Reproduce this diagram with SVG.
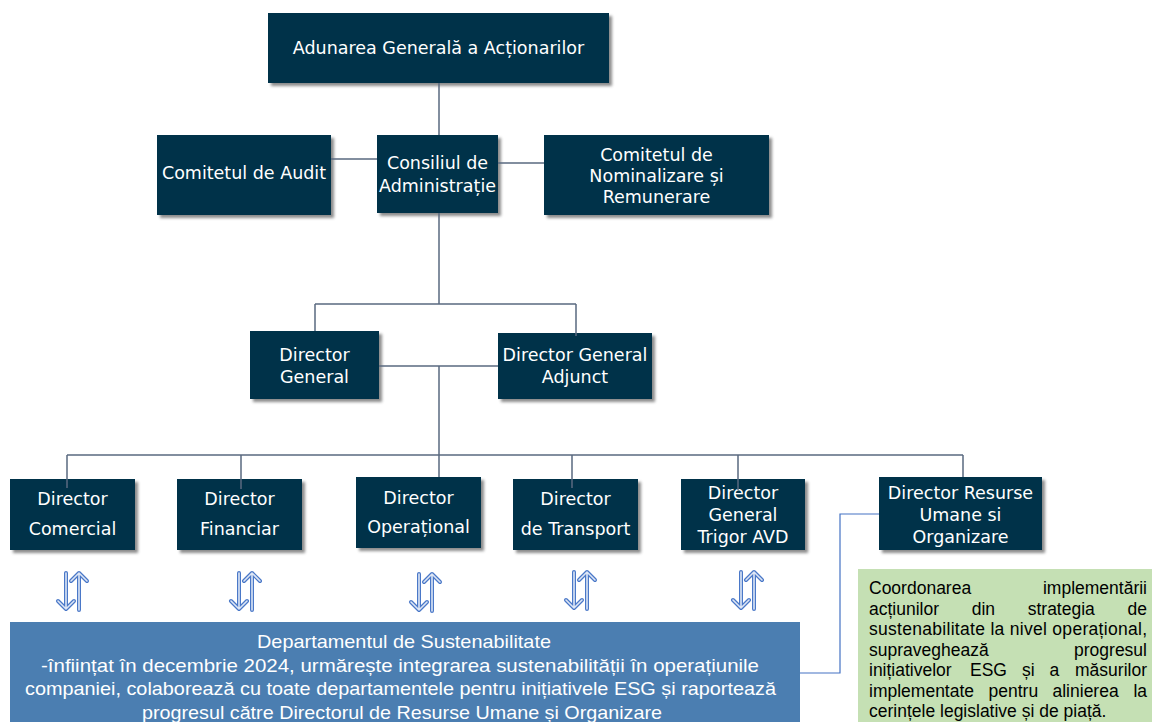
<svg xmlns="http://www.w3.org/2000/svg" width="1152" height="722" viewBox="0 0 1152 722">
<defs>
<filter id="sh" x="-10%" y="-10%" width="125%" height="130%">
<feDropShadow dx="3" dy="3" stdDeviation="1.5" flood-color="#000" flood-opacity="0.45"/>
</filter>
<style>
.box{fill:#06304a;filter:url(#sh)}
.lbl{font-family:"DejaVu Sans",Verdana,sans-serif;font-size:17.5px;fill:#fff;text-anchor:middle}
.con{stroke:#5a6a80;stroke-width:1.5;fill:none}
.blue{stroke:#4472c4;stroke-width:1.2;fill:none}
.arO{stroke:#4a78c8;stroke-width:4;fill:none;stroke-linecap:round;stroke-linejoin:round}
.arI{stroke:#dde6f5;stroke-width:1.6;fill:none;stroke-linecap:round;stroke-linejoin:round}
.dep{font-family:"Liberation Sans",Arial,sans-serif;font-size:19px;fill:#fff;text-anchor:middle}
.grn{font-family:"Liberation Sans",Arial,sans-serif;font-size:17.5px;fill:#000}
</style>
<g id="arw">
<path class="arO" d="M0 0V36M-8 28L0 36L8 28M13 37V0M5 8L13 0L21 8"/>
<path class="arI" d="M0 0V36M-8 28L0 36L8 28M13 37V0M5 8L13 0L21 8"/>
</g>
</defs>
<rect width="1152" height="722" fill="#fff"/>

<g id="n-aga"><rect class="box" x="268" y="13" width="341" height="70"/><text class="lbl" x="438.5" y="54">Adunarea Generală a Acționarilor</text></g>
<g id="n-audit"><rect class="box" x="157" y="135" width="174" height="80"/><text class="lbl" x="244" y="179">Comitetul de Audit</text></g>
<g id="n-ca"><rect class="box" x="377" y="135" width="121" height="78"/><text class="lbl" x="437.5" y="169">Consiliul de</text><text class="lbl" x="437.5" y="192">Administrație</text></g>
<g id="n-cnr"><rect class="box" x="544" y="135" width="225" height="80"/><text class="lbl" x="656.5" y="161">Comitetul de</text><text class="lbl" x="656.5" y="182">Nominalizare și</text><text class="lbl" x="656.5" y="203">Remunerare</text></g>
<g id="n-dg"><rect class="box" x="250" y="331" width="129" height="68"/><text class="lbl" x="314.5" y="361">Director</text><text class="lbl" x="314.5" y="383">General</text></g>
<g id="n-dga"><rect class="box" x="498" y="333" width="154" height="66"/><text class="lbl" x="575" y="361">Director General</text><text class="lbl" x="575" y="383">Adjunct</text></g>
<g id="n-com"><rect class="box" x="10" y="479" width="125" height="71"/><text class="lbl" x="72.5" y="505">Director</text><text class="lbl" x="72.5" y="535">Comercial</text></g>
<g id="n-fin"><rect class="box" x="177" y="479" width="125" height="71"/><text class="lbl" x="239.5" y="505">Director</text><text class="lbl" x="239.5" y="535">Financiar</text></g>
<g id="n-op"><rect class="box" x="356" y="477" width="125" height="71"/><text class="lbl" x="418.5" y="504">Director</text><text class="lbl" x="418.5" y="533">Operațional</text></g>
<g id="n-tr"><rect class="box" x="513" y="479" width="125" height="71"/><text class="lbl" x="575.5" y="505">Director</text><text class="lbl" x="575.5" y="535">de Transport</text></g>
<g id="n-avd"><rect class="box" x="681" y="479" width="124" height="71"/><text class="lbl" x="743" y="499">Director</text><text class="lbl" x="743" y="521">General</text><text class="lbl" x="743" y="543">Trigor AVD</text></g>
<g id="n-hr"><rect class="box" x="879" y="477" width="163" height="73"/><text class="lbl" x="960.5" y="499">Director Resurse</text><text class="lbl" x="960.5" y="521">Umane si</text><text class="lbl" x="960.5" y="543">Organizare</text></g>

<g id="n-dep"><rect x="10" y="622" width="790" height="100" fill="#4b7eb1"/>
<text class="dep" x="404" y="648" textLength="294" lengthAdjust="spacingAndGlyphs">Departamentul de Sustenabilitate</text>
<text class="dep" x="400" y="671.5" textLength="718" lengthAdjust="spacingAndGlyphs">-înființat în decembrie 2024, urmărește integrarea sustenabilității în  operațiunile</text>
<text class="dep" x="400.5" y="695" textLength="751" lengthAdjust="spacingAndGlyphs">companiei, colaborează cu toate departamentele pentru inițiativele ESG și raportează</text>
<text class="dep" x="402" y="718.5" textLength="520" lengthAdjust="spacingAndGlyphs">progresul către Directorul de Resurse Umane și Organizare</text>
</g>

<g id="n-note"><rect x="858" y="569" width="294" height="153" fill="#c5e0b4"/>
<text class="grn" y="594"><tspan x="869">Coordonarea</tspan><tspan x="1147" text-anchor="end">implementării</tspan></text>
<text class="grn" y="614.5"><tspan x="869">acțiunilor</tspan><tspan x="971.7">din</tspan><tspan x="1027.7">strategia</tspan><tspan x="1147" text-anchor="end">de</tspan></text>
<text class="grn" x="869" y="635" textLength="278" lengthAdjust="spacing">sustenabilitate la nivel operațional,</text>
<text class="grn" y="655.5"><tspan x="869">supraveghează</tspan><tspan x="1147" text-anchor="end">progresul</tspan></text>
<text class="grn" y="676"><tspan x="869">inițiativelor</tspan><tspan x="970">ESG</tspan><tspan x="1022">și</tspan><tspan x="1049.5">a</tspan><tspan x="1147" text-anchor="end">măsurilor</tspan></text>
<text class="grn" y="696.5"><tspan x="869">implementate</tspan><tspan x="988.5">pentru</tspan><tspan x="1052.5">alinierea</tspan><tspan x="1147" text-anchor="end">la</tspan></text>
<text class="grn" x="869" y="717">cerințele legislative și de piață.</text>
</g>

<g id="connectors">
<path class="con" d="M439 83V135M331 159H377M498 163H544M439 213V304M315 304H576M315 304V331M576 304V336M379 366H498M439 366V455M67 455H963M67 455V488M241 455V489M439 455V477M572 455V488M738 455V490M963 455V477"/>
<path class="blue" d="M879 514H840V673H800"/>
<use href="#arw" x="66" y="573"/>
<use href="#arw" x="239" y="573"/>
<use href="#arw" x="419" y="574"/>
<use href="#arw" x="574" y="572"/>
<use href="#arw" x="741" y="572"/>
</g>
</svg>
